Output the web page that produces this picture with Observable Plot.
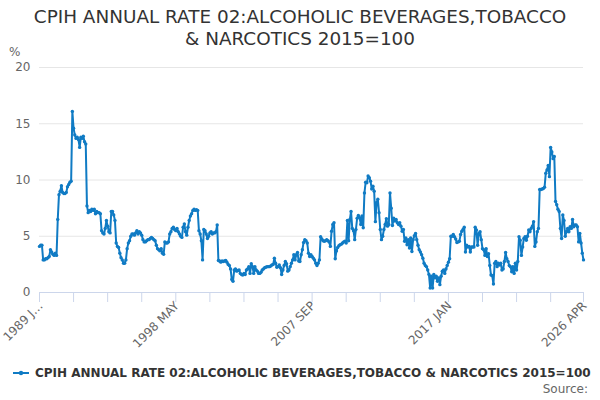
<!DOCTYPE html>
<html>
<head>
<meta charset="utf-8">
<script src="https://cdn.jsdelivr.net/npm/d3@7"></script>
<script src="https://cdn.jsdelivr.net/npm/@observablehq/plot@0.6"></script>
<style>
  html, body { margin: 0; padding: 0; background: #fff; }
  #wrap { position: relative; width: 600px; height: 400px; font-family: "DejaVu Sans", sans-serif; overflow: hidden; }
  #title { position: absolute; left: 0; top: 6px; width: 600px; text-align: center; font-size: 18.4px; line-height: 22px; color: #333; }
  #unit { position: absolute; left: 9px; top: 45px; font-size: 12px; color: #666; }
  #chart { position: absolute; left: 0; top: 45px; }
  #legend { position: absolute; left: 12px; top: 366px; font-size: 12px; font-weight: bold; color: #333; white-space: nowrap; display: flex; align-items: center; }
  #legend svg { margin-right: 5px; }
  #source { position: absolute; right: 12px; top: 382px; font-size: 12px; color: #666; }
</style>
</head>
<body>
<div id="wrap">
  <div id="title">CPIH ANNUAL RATE 02:ALCOHOLIC BEVERAGES,TOBACCO<br>&amp; NARCOTICS 2015=100</div>
  <div id="unit">%</div>
  <div id="chart"></div>
  <div id="legend"></div>
  <div id="source">Source:</div>
</div>
<script>
const seriesName = "CPIH ANNUAL RATE 02:ALCOHOLIC BEVERAGES,TOBACCO & NARCOTICS 2015=100";
const startYear = 1989;
const monthNames = ["JAN","FEB","MAR","APR","MAY","JUN","JUL","AUG","SEP","OCT","NOV","DEC"];

// Monthly annual rate (%), Jan 1989 .. Apr 2026, one row per year
const values = [
  4.1, 4.2, 4.2, 2.9, 2.9, 3.0, 3.0, 3.1, 3.2, 3.8, 3.6, 3.4,      // 1989
  3.3, 3.5, 3.3, 6.5, 8.7, 9.0, 9.5, 8.9, 8.8, 8.8, 8.9, 9.4,      // 1990
  9.6, 9.8, 9.9, 16.1, 14.6, 14.0, 13.7, 13.8, 13.6, 12.9, 13.8, 13.7, // 1991
  13.9, 13.4, 13.2, 7.7, 7.1, 7.3, 7.2, 7.4, 7.3, 7.4, 7.0, 7.2,   // 1992
  7.1, 7.1, 7.0, 5.5, 5.3, 5.2, 5.7, 6.4, 5.9, 5.4, 5.3, 7.2,      // 1993
  7.2, 6.9, 6.4, 4.4, 4.1, 4.0, 3.5, 3.1, 2.9, 2.6, 2.6, 2.9,      // 1994
  3.9, 4.4, 4.6, 5.0, 5.2, 5.2, 5.1, 5.3, 5.5, 5.2, 5.4, 5.3,      // 1995
  5.1, 4.7, 4.5, 4.5, 4.6, 4.7, 4.7, 4.8, 4.9, 4.8, 4.7, 4.6,      // 1996
  4.2, 3.9, 3.8, 3.7, 3.9, 3.5, 3.4, 4.5, 4.4, 4.4, 4.5, 5.2,      // 1997
  5.4, 5.7, 5.8, 5.6, 5.5, 5.7, 5.4, 5.2, 5.0, 4.9, 5.8, 6.1,      // 1998
  5.4, 5.1, 5.8, 6.4, 6.8, 7.0, 7.3, 7.4, 7.3, 7.35, 7.3, 5.5,     // 1999
  5.2, 4.6, 2.9, 5.6, 5.5, 5.2, 4.8, 5.0, 5.3, 5.4, 5.2, 5.3,      // 2000
  5.3, 5.4, 6.0, 2.85, 2.8, 2.7, 2.8, 2.75, 2.8, 2.85, 2.7, 2.5,   // 2001
  2.4, 2.1, 1.15, 1.0, 2.0, 2.1, 1.9, 1.95, 2.0, 1.7, 1.6, 1.55,   // 2002
  1.7, 1.6, 2.0, 2.1, 2.3, 1.7, 2.55, 2.3, 1.7, 2.3, 2.0, 1.9,     // 2003
  1.7, 1.7, 1.8, 2.0, 2.1, 2.2, 2.25, 2.3, 2.3, 2.3, 2.35, 2.45,   // 2004
  2.5, 3.05, 2.6, 2.25, 2.3, 2.45, 2.2, 1.6, 2.0, 2.4, 2.75, 2.55, // 2005
  1.9, 2.0, 2.3, 2.6, 2.9, 3.35, 2.9, 3.35, 3.55, 2.8, 2.75, 3.35, // 2006
  3.8, 4.45, 4.7, 4.6, 4.4, 3.5, 3.2, 3.35, 3.2, 3.05, 2.9, 2.6,   // 2007
  2.4, 2.6, 2.9, 4.95, 4.75, 4.6, 4.55, 4.6, 4.7, 4.6, 4.5, 4.1,   // 2008
  5.45, 6.05, 6.2, 3.0, 3.7, 4.0, 4.15, 4.25, 4.3, 4.4, 4.5, 4.55, // 2009
  4.4, 6.4, 4.6, 6.5, 7.2, 5.7, 5.5, 4.7, 5.6, 6.6, 6.85, 6.65,    // 2010
  6.05, 6.8, 5.75, 8.85, 9.8, 9.75, 10.35, 10.2, 9.9, 9.2, 9.45, 9.0, // 2011
  6.3, 8.0, 8.3, 7.1, 5.6, 4.7, 5.0, 5.6, 6.05, 6.55, 5.9, 6.05,   // 2012
  8.85, 7.5, 5.95, 6.6, 6.35, 6.5, 6.2, 6.05, 6.2, 5.9, 5.45, 5.6, // 2013
  4.55, 4.85, 4.25, 4.7, 3.95, 4.85, 3.65, 4.7, 5.05, 5.25, 4.7, 4.2, // 2014
  3.8, 3.6, 3.35, 3.05, 2.6, 2.4, 2.3, 2.0, 1.6, 0.4, 1.45, 0.4,   // 2015
  1.6, 1.3, 1.45, 1.0, 1.3, 0.7, 1.45, 1.9, 2.0, 1.7, 2.1, 2.4,    // 2016
  2.7, 3.0, 5.0, 5.0, 5.15, 4.95, 4.75, 4.45, 4.5, 4.55, 5.15, 5.45, // 2017
  5.6, 5.8, 3.6, 4.2, 4.05, 4.1, 3.6, 4.05, 4.05, 4.05, 5.8, 5.55, // 2018
  4.2, 5.25, 5.4, 4.7, 3.9, 3.8, 3.3, 3.9, 3.2, 3.45, 2.4, 1.55,   // 2019
  1.5, 0.75, 2.6, 2.75, 2.3, 2.6, 2.45, 2.6, 2.0, 2.1, 2.75, 3.55, // 2020
  3.0, 2.75, 2.4, 2.3, 1.85, 2.3, 1.7, 2.6, 2.0, 2.75, 4.95, 4.65, // 2021
  3.3, 4.05, 4.8, 4.95, 4.65, 5.0, 5.55, 5.4, 5.7, 5.9, 6.3, 4.1,  // 2022
  4.5, 5.4, 5.7, 9.15, 9.15, 9.2, 9.25, 9.35, 10.6, 10.9, 11.3, 10.3, // 2023
  12.9, 12.5, 11.9, 12.1, 8.1, 7.8, 7.4, 7.2, 5.7, 4.8, 6.9, 6.4,  // 2024
  5.0, 5.4, 5.7, 5.4, 5.85, 5.7, 6.5, 5.85, 6.0, 6.0, 5.85, 4.5,   // 2025
  5.25, 4.4, 3.5, 2.9                                              // 2026
];

// Category labels for each point
const categories = values.map((_, i) => `${startYear + Math.floor(i / 12)} ${monthNames[i % 12]}`);

// Axis ticks (category indices) and their labels
const tickIndices = [0, 28, 56, 84, 112, 140, 168, 196, 224, 252, 280, 308, 336, 364, 392, 420, 447];
const labelIndices = [0, 112, 224, 336, 447];
const tickLabels = ["1989 J…", "1998 MAY", "2007 SEP", "2017 JAN", "2026 APR"];
const yTicks = [0, 5, 10, 15, 20];

const data = values.map((v, i) => ({i, v, cat: categories[i]}));
const lineColor = "#107bc4";

const chart = Plot.plot({
  width: 600,
  height: 310,
  marginTop: 22,
  marginBottom: 63,
  marginLeft: 39,
  marginRight: 17,
  style: {fontFamily: "DejaVu Sans, sans-serif", fontSize: "12px", color: "#666", background: "transparent"},
  x: {type: "linear", domain: [0, 447], axis: null},
  y: {domain: [0, 20], axis: null},
  marks: [
    Plot.gridY(yTicks, {stroke: "#e6e6e6", strokeOpacity: 1, strokeWidth: 1}),
    Plot.axisY(yTicks, {tickSize: 0, tickPadding: 9, fill: "#666", fontSize: 12, label: null}),
    Plot.axisX(tickIndices, {tickSize: 10, stroke: "#ccd6eb", tickFormat: () => "", label: null}),
    Plot.ruleY([0], {stroke: "#ccd6eb", strokeWidth: 1}),
    Plot.text(labelIndices, {
      x: d => d,
      text: (d, k) => tickLabels[k],
      frameAnchor: "bottom",
      dx: 4, dy: 14,
      rotate: -45,
      textAnchor: "end",
      fill: "#666",
      fontSize: 12
    }),
    Plot.line(data, {x: "i", y: "v", stroke: lineColor, strokeWidth: 2, curve: "linear"}),
    Plot.dot(data, {x: "i", y: "v", r: 1.7, fill: lineColor, stroke: "none", title: d => `${d.cat}: ${d.v}`})
  ]
});
document.getElementById("chart").appendChild(chart);

const leg = document.getElementById("legend");
leg.innerHTML = `<svg width="18" height="10"><line x1="1" y1="5" x2="17" y2="5" stroke="${lineColor}" stroke-width="2"/><circle cx="9" cy="5" r="2.2" fill="${lineColor}"/></svg><span>${seriesName.replace("&", "&amp;")}</span>`;
</script>
</body>
</html>
